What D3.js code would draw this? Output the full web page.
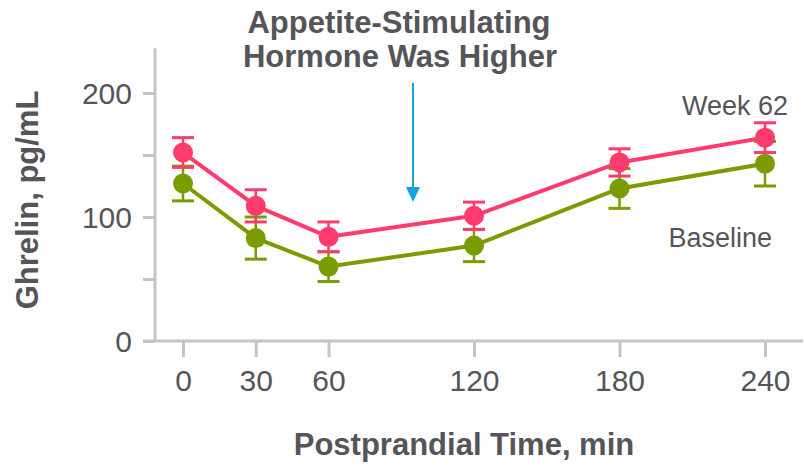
<!DOCTYPE html>
<html>
<head>
<meta charset="utf-8">
<script src="https://cdn.jsdelivr.net/npm/d3@7"></script>
<style>
  body { margin: 0; background: #fff; }
  text { font-family: "Liberation Sans", Arial, sans-serif; fill: #555559; }
</style>
</head>
<body>
<svg class="chart"></svg>
<script>
// Data
var times = [0, 30, 60, 120, 180, 240];
var week62 = [152, 109, 84, 101, 144, 164];
var week62Err = [12, 13, 12, 11, 11, 12];
var baseline = [127, 83, 60, 77, 123, 143];
var baselineErr = [14, 17, 12, 13, 16, 18];
var yTicks = [0, 50, 100, 150, 200];
var yLabels = [0, 100, 200];

var w = 804,
    h = 466;

var svg = d3.select(".chart")
    .attr("width", w)
    .attr("height", h);

var x = d3.scaleLinear().domain([0, 240]).range([183, 765]);
var y = d3.scaleLinear().domain([0, 200]).range([341, 93]);

var axisColor = "#c4c4c4";

// axis lines
svg.append("line")
    .attr("x1", 155).attr("x2", 155)
    .attr("y1", y(236)).attr("y2", y(0))
    .attr("stroke", axisColor).attr("stroke-width", 3);
svg.append("line")
    .attr("x1", 143).attr("x2", 803)
    .attr("y1", y(0)).attr("y2", y(0))
    .attr("stroke", axisColor).attr("stroke-width", 3);

// y axis
var yAxis = d3.axisLeft(y)
    .tickValues(yTicks)
    .tickSize(12)
    .tickPadding(11)
    .tickFormat(function(d) { return yLabels.indexOf(d) >= 0 ? d : ""; });

var gy = svg.append("g")
    .attr("transform", "translate(155,0)")
    .call(yAxis);
gy.select(".domain").remove();
gy.selectAll(".tick line").attr("stroke", axisColor).attr("stroke-width", 3);
gy.selectAll(".tick text")
    .attr("font-size", 30)
    .attr("dy", "0.36em")
    .style("font-family", "Liberation Sans, Arial, sans-serif")
    .attr("fill", "#555559");

// x axis
var xAxis = d3.axisBottom(x)
    .tickValues(times)
    .tickSize(16)
    .tickPadding(11)
    .tickFormat(d3.format("d"));

var gx = svg.append("g")
    .attr("transform", "translate(0," + y(0) + ")")
    .call(xAxis);
gx.select(".domain").remove();
gx.selectAll(".tick line").attr("stroke", axisColor).attr("stroke-width", 3);
gx.selectAll(".tick text")
    .attr("font-size", 30)
    .attr("dy", "0.78em")
    .style("font-family", "Liberation Sans, Arial, sans-serif")
    .attr("fill", "#555559");

// series
var series = [
    { name: "Baseline", values: baseline, err: baselineErr, color: "#7a9c00" },
    { name: "Week 62", values: week62, err: week62Err, color: "#ff3b6e" }
];

var line = d3.line()
    .x(function(d, i) { return x(times[i]); })
    .y(function(d) { return y(d); });

series.forEach(function(s) {
    var g = svg.append("g");

    // error bars
    times.forEach(function(t, i) {
        var cx = x(t),
            top = y(s.values[i] + s.err[i]),
            bot = y(s.values[i] - s.err[i]);
        g.append("line")
            .attr("x1", cx).attr("x2", cx)
            .attr("y1", top).attr("y2", bot)
            .attr("stroke", s.color).attr("stroke-width", 2.5);
        [top, bot].forEach(function(yy) {
            g.append("line")
                .attr("x1", cx - 11).attr("x2", cx + 11)
                .attr("y1", yy).attr("y2", yy)
                .attr("stroke", s.color).attr("stroke-width", 3);
        });
    });

    g.append("path")
        .datum(s.values)
        .attr("fill", "none")
        .attr("stroke", s.color)
        .attr("stroke-width", 4)
        .attr("stroke-linejoin", "round")
        .attr("d", line);

    g.selectAll("circle")
        .data(s.values)
        .enter().append("circle")
        .attr("cx", function(d, i) { return x(times[i]); })
        .attr("cy", function(d) { return y(d); })
        .attr("r", 10)
        .attr("fill", s.color);
});

// series labels
svg.append("text")
    .attr("x", 788).attr("y", 115)
    .attr("text-anchor", "end")
    .attr("font-size", 27)
    .text("Week 62");
svg.append("text")
    .attr("x", 772).attr("y", 247)
    .attr("text-anchor", "end")
    .attr("font-size", 27)
    .text("Baseline");

// title
svg.append("text")
    .attr("x", 399).attr("y", 33)
    .attr("text-anchor", "middle")
    .attr("font-size", 31)
    .attr("font-weight", "bold")
    .text("Appetite-Stimulating");
svg.append("text")
    .attr("x", 400).attr("y", 67)
    .attr("text-anchor", "middle")
    .attr("font-size", 31)
    .attr("font-weight", "bold")
    .text("Hormone Was Higher");

// arrow
var arrowColor = "#12a3e0";
svg.append("line")
    .attr("x1", 413).attr("x2", 413)
    .attr("y1", 83).attr("y2", 190)
    .attr("stroke", arrowColor).attr("stroke-width", 2);
svg.append("path")
    .attr("d", d3.line()([[406, 187], [420, 187], [413, 202]]))
    .attr("fill", arrowColor);

// axis titles
svg.append("text")
    .attr("x", 464).attr("y", 455)
    .attr("text-anchor", "middle")
    .attr("font-size", 31)
    .attr("font-weight", "bold")
    .text("Postprandial Time, min");
svg.append("text")
    .attr("transform", "translate(38,200) rotate(-90)")
    .attr("text-anchor", "middle")
    .attr("font-size", 31)
    .attr("font-weight", "bold")
    .text("Ghrelin, pg/mL");
</script>
</body>
</html>
